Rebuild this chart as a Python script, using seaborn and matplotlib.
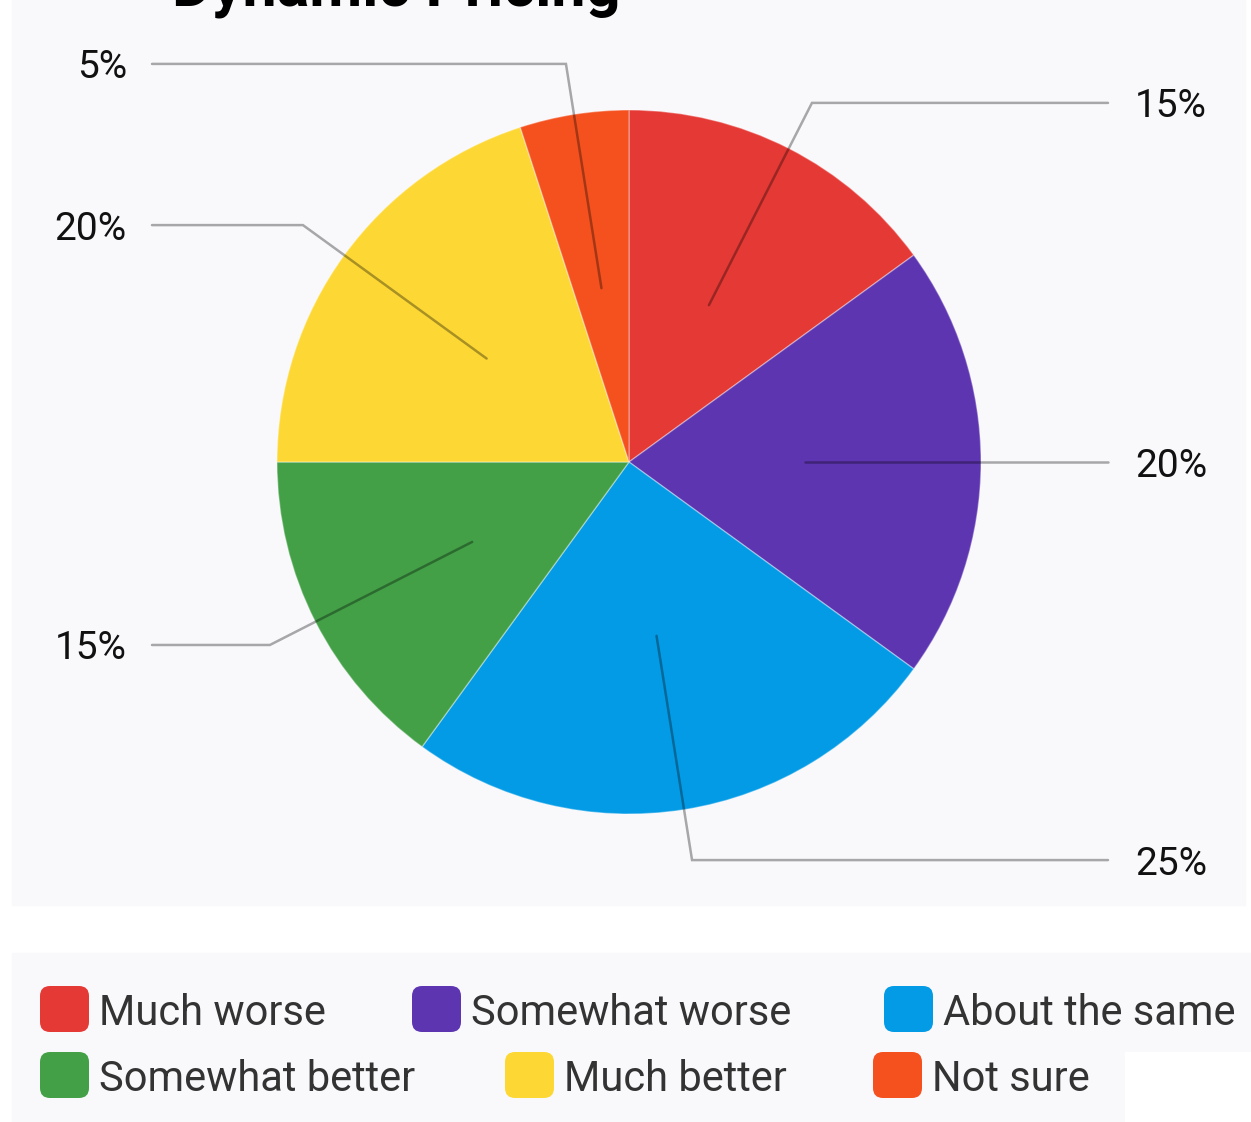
import numpy as np
import matplotlib
matplotlib.use("Agg")
import matplotlib.pyplot as plt
from matplotlib.patches import Rectangle, FancyBboxPatch
import seaborn as sns

# data
categories = ["Much worse", "Somewhat worse", "About the same",
              "Somewhat better", "Much better", "Not sure"]
shares = [15, 20, 25, 15, 20, 5]
colors = ["#E53935", "#5E35B1", "#039BE5", "#43A047", "#FDD835", "#F4511E"]
title = "Dynamic Pricing"

sns.set_theme(style="white")
plt.rcParams['font.family'] = ['Roboto', 'DejaVu Sans']

W, H = 1251, 1122
fig = plt.figure(figsize=(W / 100, H / 100), dpi=100)
ax = fig.add_axes([0, 0, 1, 1])

# panel backgrounds (pixel coords, y up)
ax.add_patch(Rectangle((12, H - 905), 1233, 905, color="#F9F9FC", zorder=0))
ax.add_patch(Rectangle((12, 0), 1239, H - 953, color="#F9F9FC", zorder=0))
ax.add_patch(Rectangle((1125, 0), 130, H - 1052, color="white", zorder=0))

cx, cy, r = 629, H - 462, 352
wedges, _ = ax.pie(shares, colors=colors, startangle=90, counterclock=False,
                   center=(cx, cy), radius=r, frame=True,
                   wedgeprops=dict(linewidth=1, edgecolor=(1, 1, 1, 0.35)))
for w in wedges:
    w.set_zorder(2)

# leader lines and labels
total = sum(shares)
cum = 0
for val in shares:
    mid = (cum + val / 2) / total * 2 * np.pi
    cum += val
    sx, sy = cx + 0.5 * r * np.sin(mid), cy + 0.5 * r * np.cos(mid)
    kx, ky = cx + 1.145 * r * np.sin(mid), cy + 1.145 * r * np.cos(mid)
    right = np.sin(mid) > 0
    ex = 1108 if right else 152
    ax.plot([sx, kx, ex], [sy, ky, ky], color="black", alpha=0.33, lw=1.8,
            zorder=3, solid_joinstyle="miter")
    if right:
        ax.text(1135, ky, f"{val}%", ha="left", va="center_baseline",
                fontsize=28, color="#111111", zorder=4)
    else:
        ax.text(127, ky, f"{val}%", ha="right", va="center_baseline",
                fontsize=28, color="#111111", zorder=4)

# title (cropped at top in the reference)
ax.text(172, H - 5, title, ha="left", va="baseline", fontsize=44,
        fontweight="bold", color="black", zorder=5)

# legend
leg_x = [40, 412, 884, 40, 505, 873]
leg_y = [1009, 1009, 1009, 1075, 1075, 1075]
for name, col, lx, ly in zip(categories, colors, leg_x, leg_y):
    ax.add_patch(FancyBboxPatch((lx + 7, H - ly - 16), 35, 32,
                                boxstyle="round,pad=7,rounding_size=10",
                                facecolor=col, edgecolor="none", zorder=3))
    ax.text(lx + 59, H - ly, name, ha="left", va="center_baseline",
            fontsize=30, color="#333333", zorder=4)

ax.set_xlim(0, W)
ax.set_ylim(0, H)
ax.set_aspect("auto")
ax.axis("off")

fig.savefig("out.png", dpi=100, facecolor="white")
